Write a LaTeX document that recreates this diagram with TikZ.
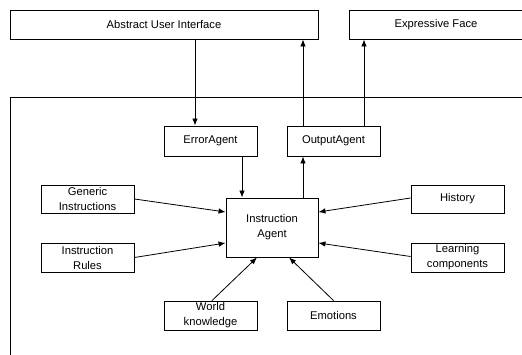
\documentclass[tikz,border=0pt]{standalone}
\usepackage{fontspec}
\setmainfont{Liberation Sans}
\usetikzlibrary{arrows.meta}
\tikzset{
  box/.style={draw,line width=0.9pt,minimum width=93pt,minimum height=29pt,align=center,inner sep=1pt},
  arr/.style={line width=0.8pt,-{Latex[length=7pt,width=5.5pt]}}
}
\begin{document}
\begin{tikzpicture}[x=1pt,y=-1pt,font=\fontsize{11.2}{15}\selectfont]
  \useasboundingbox (0,0) rectangle (522,355);
  \clip (0,0) rectangle (522,355);
  %top boxes
  \node[box,minimum width=308pt] (aui) at (164,24.5) {Abstract User Interface};
  \node[box,minimum width=174pt] (face) at (436,24.5) {Expressive Face};
  %frame
  \draw[line width=0.9pt] (10,380) -- (10,97) -- (540,97);
  %agents
  \node[box,minimum height=30pt] (err) at (210.5,141) {ErrorAgent};
  \node[box,minimum height=30pt] (out) at (333.5,141) {OutputAgent};
  \node[box,minimum width=92pt,minimum height=59pt] (ia) at (272,227.5) {Instruction\\Agent};
  \node[box,minimum height=28pt] (gen) at (87.5,199) {Generic\\Instructions};
  \node[box,minimum height=28pt] (hist) at (457.5,199) {History};
  \node[box] (rules) at (87.5,257.5) {Instruction\\Rules};
  \node[box] (learn) at (457.5,257.5) {Learning\\components};
  \node[box] (world) at (210.5,315.5) {World\\knowledge};
  \node[box] (emo) at (333.5,315.5) {Emotions};
  %arrows
  \coordinate (e1) at ([xshift=-15.5pt]err.north);
  \coordinate (o1) at ([xshift=-30.5pt]out.north);
  \coordinate (o2) at ([xshift=30.5pt]out.north);
  \coordinate (e2) at ([xshift=31.5pt]err.south);
  \coordinate (i1) at ([xshift=31pt]ia.north);
  \draw[arr] (aui.south -| e1) -- (e1);
  \draw[arr] (o1) -- (aui.south -| o1);
  \draw[arr] (o2) -- (face.south -| o2);
  \draw[arr] (e2) -- (ia.north -| e2);
  \draw[arr] (i1) -- (out.south -| i1);
  \draw[arr] (gen.east) -- ([yshift=15.5pt]ia.west);
  \draw[arr] ([yshift=1pt]hist.west) -- ([yshift=15.5pt]ia.east);
  \draw[arr] (rules.east) -- ([yshift=-15.5pt]ia.west);
  \draw[arr] ([yshift=1pt]learn.west) -- ([yshift=-15.5pt]ia.east);
  \draw[arr] ([xshift=1.5pt]world.north) -- ([xshift=-15pt]ia.south);
  \draw[arr] (emo.north) -- ([xshift=17pt]ia.south);
\end{tikzpicture}
\end{document}
